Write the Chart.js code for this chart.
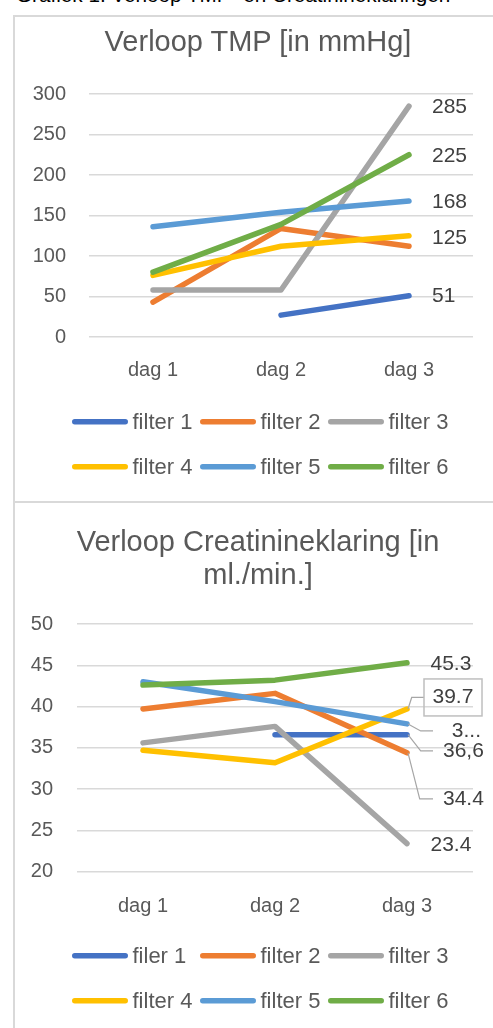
<!DOCTYPE html>
<html>
<head>
<meta charset="utf-8">
<script src="https://cdn.jsdelivr.net/npm/chart.js@4.4.1/dist/chart.umd.min.js"></script>
<style>
  html, body { margin: 0; padding: 0; background: #fff; }
  body { width: 493px; height: 1028px; overflow: hidden; position: relative;
         font-family: "Liberation Sans", Arial, sans-serif; }
  .caption { position: absolute; left: 16px; top: -15px; font-size: 20.7px; line-height: 20px;
             color: #000; white-space: nowrap; }
  .panel { position: absolute; left: 13px; width: 520px; box-sizing: border-box;
           border: 2px solid #d9d9d9; }
  #panelTmp { top: 15px; height: 488px; }
  #panelCreat { top: 501px; height: 600px; }
  .title { position: absolute; left: 13px; width: 490px; text-align: center; color: #595959;
           font-size: 29px; line-height: 33px; white-space: nowrap; }
  #titleTmp { top: 24.5px; }
  #titleCreat { top: 525px; }
  canvas { position: absolute; left: 13px; }
  #chartTmp { top: 16px; }
  #chartCreat { top: 503px; }
</style>
</head>
<body>
<div class="caption">Grafiek 1: Verloop TMP- en Creatinineklaringen</div>
<div class="panel" id="panelTmp"></div>
<div class="panel" id="panelCreat"></div>
<canvas id="chartTmp" width="490" height="486"></canvas>
<canvas id="chartCreat" width="490" height="525"></canvas>
<div class="title" id="titleTmp">Verloop TMP [in mmHg]</div>
<div class="title" id="titleCreat">Verloop Creatinineklaring [in<br>ml./min.]</div>
<script>
// ---- data ----
const days = ['dag 1', 'dag 2', 'dag 3'];
const seriesColors = ['#4472C4', '#ED7D31', '#A5A5A5', '#FFC000', '#5B9BD5', '#70AD47'];

// TMP [mmHg]
const tmpNames = ['filter 1', 'filter 2', 'filter 3', 'filter 4', 'filter 5', 'filter 6'];
const tmpFilter1 = [null, 27, 51];
const tmpFilter2 = [43, 134, 112];
const tmpFilter3 = [58, 58, 285];
const tmpFilter4 = [76, 112, 125];
const tmpFilter5 = [136, 154, 168];
const tmpFilter6 = [80, 139, 225];
const tmpTicks = [0, 300, 50]; // min, max, step

// Creatinineklaring [ml./min.]
const creatNames = ['filer 1', 'filter 2', 'filter 3', 'filter 4', 'filter 5', 'filter 6'];
const creatFilter1 = [null, 36.6, 36.6];
const creatFilter2 = [39.7, 41.6, 34.4];
const creatFilter3 = [35.6, 37.6, 23.4];
const creatFilter4 = [34.7, 33.2, 39.7];
const creatFilter5 = [43.0, 40.6, 37.9];
const creatFilter6 = [42.6, 43.2, 45.3];
const creatTicks = [20, 50, 5];

const FONT = '"Liberation Sans", Arial, sans-serif';
const TEXT = '#595959';
const LABEL = '#404040';

function makeDatasets(names, rows) {
  return rows.map((vals, i) => ({
    label: names[i],
    data: vals,
    borderColor: seriesColors[i],
    backgroundColor: seriesColors[i],
    borderWidth: 5.5,
    borderCapStyle: 'round',
    borderJoinStyle: 'round',
    pointRadius: 0,
    tension: 0,
    fill: false,
    order: rows.length - i   // later series are painted on top
  }));
}

// legend: two rows of three line samples
const lineLegend = {
  id: 'lineLegend',
  afterDraw(chart, args, o) {
    const ctx = chart.ctx;
    ctx.save();
    ctx.font = o.fontSize + 'px ' + FONT;
    ctx.fillStyle = TEXT;
    ctx.textBaseline = 'alphabetic';
    ctx.textAlign = 'left';
    chart.data.datasets.forEach((ds, i) => {
      const x = o.x0 + (i % 3) * o.colStep;
      const y = o.y0 + Math.floor(i / 3) * o.rowStep;
      ctx.strokeStyle = ds.borderColor;
      ctx.lineWidth = 5.5;
      ctx.lineCap = 'round';
      ctx.beginPath();
      ctx.moveTo(x + 2.75, y);
      ctx.lineTo(x + o.sample - 2.75, y);
      ctx.stroke();
      ctx.fillText(ds.label, x + o.sample + 4.5, y + 7.6);
    });
    ctx.restore();
  }
};

// value labels at the last category, with optional leader line and frame
const formats = {
  plain: v => String(v),
  dot: v => v.toFixed(1),
  comma: v => v.toFixed(1).replace('.', ','),
  cut: v => String(v).charAt(0) + '...'
};
const endLabels = {
  id: 'endLabels',
  afterDatasetsDraw(chart, args, o) {
    const ctx = chart.ctx;
    ctx.save();
    ctx.font = o.fontSize + 'px ' + FONT;
    ctx.textBaseline = 'middle';
    o.items.forEach(it => {
      const el = chart.getDatasetMeta(it.ds).data[it.idx];
      const v = chart.data.datasets[it.ds].data[it.idx];
      const px = el.x, py = el.y;
      const ty = py + it.dy;
      const text = formats[it.fmt](v);
      if (it.leader) {
        ctx.strokeStyle = '#a6a6a6';
        ctx.lineWidth = 1.2;
        ctx.lineCap = 'butt';
        ctx.beginPath();
        ctx.moveTo(px + 1, py);
        ctx.lineTo(px + it.leader[0], ty);
        ctx.lineTo(px + it.leader[1], ty);
        ctx.stroke();
      }
      if (it.box) {
        ctx.strokeStyle = '#bfbfbf';
        ctx.lineWidth = 1.5;
        ctx.strokeRect(px + it.box[0], ty - it.box[2] / 2, it.box[1], it.box[2]);
      }
      ctx.fillStyle = LABEL;
      ctx.textAlign = it.align || 'left';
      ctx.fillText(text, px + it.dx, ty);
    });
    ctx.restore();
  }
};

function makeChart(id, names, rows, ticks, geom, legendCfg, labelCfg) {
  return new Chart(document.getElementById(id), {
    type: 'line',
    data: { labels: days, datasets: makeDatasets(names, rows) },
    plugins: [lineLegend, endLabels],
    options: {
      responsive: false,
      animation: false,
      devicePixelRatio: 1,
      events: [],
      layout: { padding: { top: geom.top, right: geom.right, bottom: geom.bottom, left: 0 } },
      plugins: {
        legend: { display: false },
        title: { display: false },
        tooltip: { enabled: false },
        lineLegend: legendCfg,
        endLabels: labelCfg
      },
      scales: {
        x: {
          type: 'category',
          offset: true,
          grid: { display: false, drawTicks: false },
          border: { display: false },
          ticks: { color: TEXT, font: { family: FONT, size: 20 }, padding: geom.xPad, maxRotation: 0 },
          afterFit: s => { s.height = 60; }
        },
        y: {
          min: ticks[0], max: ticks[1],
          grid: { color: '#d9d9d9', lineWidth: 1.4, drawTicks: false },
          border: { display: false },
          ticks: { stepSize: ticks[2], color: TEXT, font: { family: FONT, size: 20 }, padding: geom.yPad },
          afterFit: s => { s.width = geom.axisW; }
        }
      }
    }
  });
}

makeChart('chartTmp', tmpNames,
  [tmpFilter1, tmpFilter2, tmpFilter3, tmpFilter4, tmpFilter5, tmpFilter6],
  tmpTicks,
  { top: 78, right: 30, bottom: 105, axisW: 76, yPad: 23, xPad: 21 },
  { x0: 59, y0: 405.7, colStep: 128, rowStep: 45, sample: 56, fontSize: 22 },
  { fontSize: 21, items: [
    { ds: 0, idx: 2, fmt: 'plain', dx: 23, dy: 1 },
    { ds: 2, idx: 2, fmt: 'plain', dx: 23, dy: 1 },
    { ds: 3, idx: 2, fmt: 'plain', dx: 23, dy: 2 },
    { ds: 4, idx: 2, fmt: 'plain', dx: 23, dy: 1 },
    { ds: 5, idx: 2, fmt: 'plain', dx: 23, dy: 1 }
  ] });

makeChart('chartCreat', creatNames,
  [creatFilter1, creatFilter2, creatFilter3, creatFilter4, creatFilter5, creatFilter6],
  creatTicks,
  { top: 121, right: 30, bottom: 96.3, axisW: 64, yPad: 24, xPad: 22.5 },
  { x0: 59, y0: 452.7, colStep: 128, rowStep: 45, sample: 56, fontSize: 22 },
  { fontSize: 21, items: [
    { ds: 5, idx: 2, fmt: 'dot', dx: 23.5, dy: 1 },
    { ds: 3, idx: 2, fmt: 'dot', dx: 25.5, dy: -11.6, leader: [4.7, 17], box: [17, 58, 37] },
    { ds: 4, idx: 2, fmt: 'cut', dx: 74, dy: 7, align: 'right', leader: [13.7, 26] },
    { ds: 0, idx: 2, fmt: 'comma', dx: 36, dy: 16.2, leader: [13.7, 26] },
    { ds: 1, idx: 2, fmt: 'dot', dx: 36, dy: 46, leader: [12.7, 26] },
    { ds: 2, idx: 2, fmt: 'dot', dx: 23.5, dy: 2 }
  ] });
</script>
</body>
</html>
